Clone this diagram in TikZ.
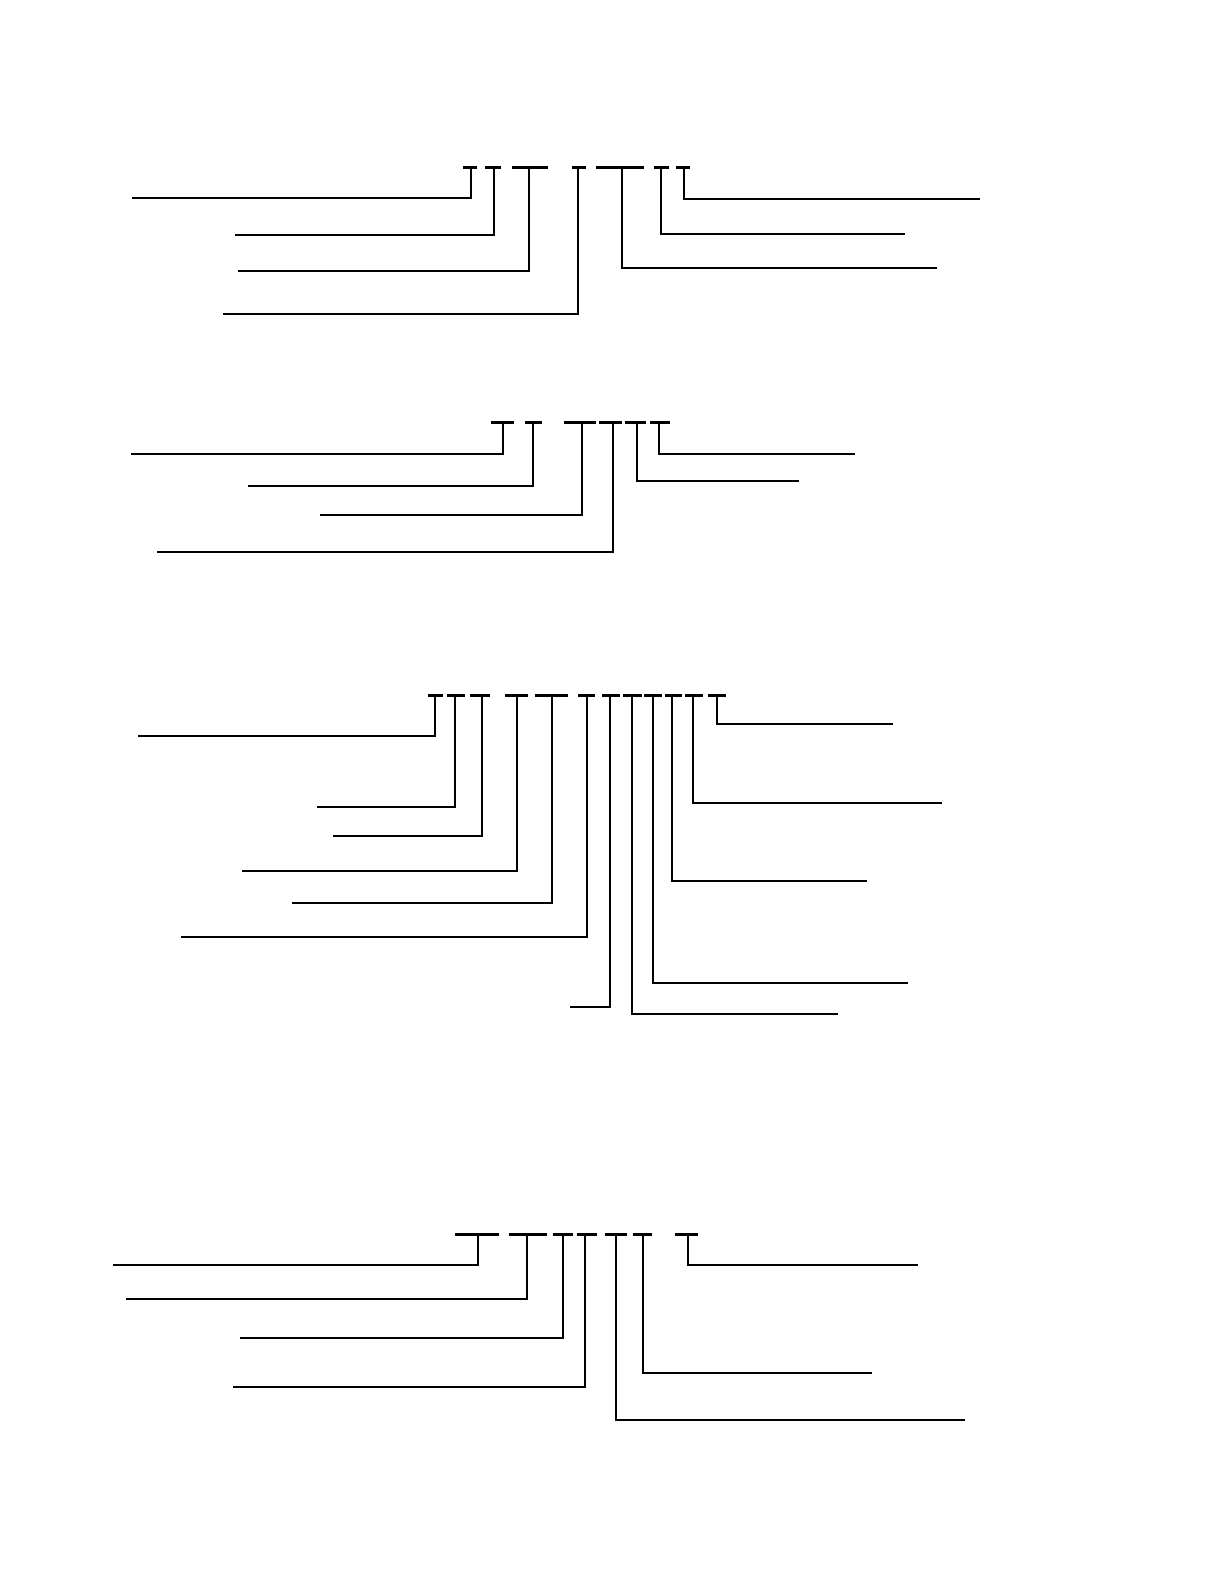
\documentclass[tikz,border=0pt]{standalone}
\usetikzlibrary{positioning}

\begin{document}
\begin{tikzpicture}
		[x=0.5pt, y=-0.5pt,
		bar/.style = {draw=black, line width=1.5pt},
		lead/.style = {draw=black, line width=1pt}]
		
		\useasboundingbox (0,0) rectangle (1224,1584);
		
		% first line
		\foreach \a/\b in {463/477, 485/501, 512/548, 572/586, 596/644, 654/669, 676/690}
		{
			\draw[bar] (\a,167) -- (\b,167);
		}
		\foreach \n/\x/\y/\e in {1/471/198/132, 2/494/235/235, 3/529/271/238, 4/578/314/223,
			5/622/268/937, 6/661/234/905, 7/684/199/980}
		{
			\coordinate (ta\n) at (\x,167);
			\coordinate (ea\n) at (\e,\y);
			\draw[lead] (ta\n) |- (ea\n);
		}
		
		% second line
		\foreach \a/\b in {491/514, 525/542, 564/596, 599/622, 625/646, 650/670}
		{
			\draw[bar] (\a,422) -- (\b,422);
		}
		\foreach \n/\x/\y/\e in {1/503/454/131, 2/533/486/248, 3/582/515/320, 4/613/552/157,
			5/637/481/799, 6/659/454/855}
		{
			\coordinate (tb\n) at (\x,422);
			\coordinate (eb\n) at (\e,\y);
			\draw[lead] (tb\n) |- (eb\n);
		}
		
		% third line
		\foreach \a/\b in {428/443, 447/465, 470/490, 505/528, 535/568, 578/595,
			602/620, 623/642, 644/662, 665/682, 685/703, 708/726}
		{
			\draw[bar] (\a,695) -- (\b,695);
		}
		\foreach \n/\x/\y/\e in {1/435/736/138, 2/455/807/317, 3/482/836/333, 4/517/871/242,
			5/552/903/292, 6/587/937/181, 7/610/1007/570, 8/632/1014/838,
			9/653/983/908, 10/672/881/867, 11/693/803/942, 12/717/724/893}
		{
			\coordinate (tc\n) at (\x,695);
			\coordinate (ec\n) at (\e,\y);
			\draw[lead] (tc\n) |- (ec\n);
		}
		
		% fourth line
		\foreach \a/\b in {455/499, 509/547, 553/573, 577/597, 605/627, 633/652, 675/698}
		{
			\draw[bar] (\a,1234) -- (\b,1234);
		}
		\foreach \n/\x/\y/\e in {1/478/1265/113, 2/527/1299/126, 3/563/1338/240, 4/585/1387/233,
			5/616/1420/965, 6/643/1373/872, 7/688/1265/918}
		{
			\coordinate (td\n) at (\x,1234);
			\coordinate (ed\n) at (\e,\y);
			\draw[lead] (td\n) |- (ed\n);
		}
		
	\end{tikzpicture}
\end{document}
